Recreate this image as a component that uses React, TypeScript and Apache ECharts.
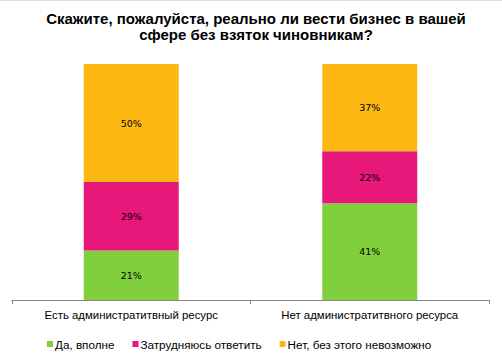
import React, { useEffect, useRef } from "react";
import * as echarts from "echarts";

const titleLines = ["Скажите, пожалуйста, реально ли вести бизнес в вашей", "сфере без взяток чиновникам?"];
const categories = ["Есть администратитвный ресурс", "Нет администратитвного ресурса"];
const seriesNames = ["Да, вполне", "Затрудняюсь ответить", "Нет, без этого невозможно"];
const yesValues = [21, 41];
const unsureValues = [29, 22];
const noValues = [50, 37];
const colors = ["#80D03E", "#E8177A", "#FDB813"];

export default function App() {
  const ref = useRef<HTMLDivElement>(null);
  useEffect(() => {
    if (!ref.current) return;
    const chart = echarts.init(ref.current, null, { renderer: "svg" });
    const label = {
      show: true,
      position: "inside",
      formatter: "{c}%",
      fontFamily: "DejaVu Sans",
      fontSize: 9.5,
      color: "#000",
    };
    const values = [yesValues, unsureValues, noValues];
    const titleStyle = {
      fontFamily: "Liberation Sans",
      fontWeight: "bold",
      fontSize: 15,
      fill: "#000",
      align: "center",
      verticalAlign: "middle",
    };
    chart.setOption({
      animation: false,
      backgroundColor: "#fff",
      graphic: [
        { type: "rect", left: 0, top: 0, shape: { width: 502, height: 1 }, style: { fill: "#dcdcdc" } },
        { type: "text", x: 256, y: 18, style: { ...titleStyle, text: titleLines[0] } },
        { type: "text", x: 256, y: 34, style: { ...titleStyle, text: titleLines[1] } },
      ],
      legend: {
        left: 42,
        top: 333,
        itemWidth: 6,
        itemHeight: 6,
        itemGap: 18,
        icon: "rect",
        textStyle: {
          fontFamily: "Liberation Sans",
          fontSize: 11.7,
          color: "#000",
          padding: [0, 0, 0, -3],
        },
        data: seriesNames,
      },
      grid: { left: 12, right: 13, top: 64, bottom: 56 },
      xAxis: {
        type: "category",
        data: categories,
        axisLine: { lineStyle: { color: "#868686", width: 1 } },
        axisTick: { show: true, length: 4, lineStyle: { color: "#868686" } },
        axisLabel: {
          margin: 9,
          fontFamily: "Liberation Sans",
          fontSize: 11.4,
          color: "#000",
        },
      },
      yAxis: {
        type: "value",
        min: 0,
        max: 100,
        show: false,
        splitLine: { show: false },
      },
      series: seriesNames.map((name, i) => ({
        name,
        type: "bar",
        stack: "total",
        barWidth: 95,
        data: values[i],
        itemStyle: { color: colors[i] },
        label,
      })),
    });
    return () => chart.dispose();
  }, []);
  return (
    <div
      ref={ref}
      style={{ position: "fixed", left: 0, top: 0, width: 502, height: 356 }}
    />
  );
}
